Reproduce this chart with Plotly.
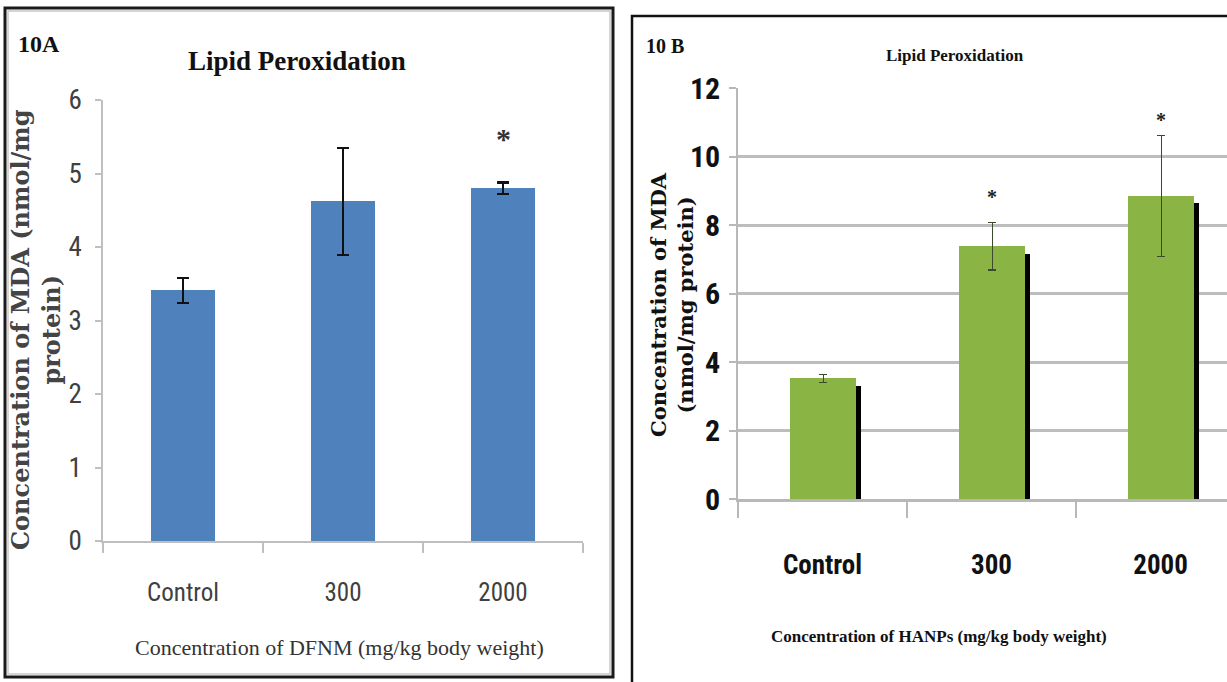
import plotly.graph_objects as go

W, H = 1227, 682

categories = ["Control", "300", "2000"]

# Panel 10A : DFNM
dfnm_mda = [3.41, 4.62, 4.80]
dfnm_err = [0.17, 0.73, 0.08]
dfnm_sig = [False, False, True]

# Panel 10B : HANPs
hanp_mda = [3.52, 7.38, 8.85]
hanp_err = [0.12, 0.70, 1.77]
hanp_sig = [False, True, True]

y_ticks_a = [0, 1, 2, 3, 4, 5, 6]
y_ticks_b = [0, 2, 4, 6, 8, 10, 12]


def px_x(p):
    return p / W


def px_y(p):
    return (H - p) / H


NARROW = "Liberation Sans Narrow, Roboto Condensed, Liberation Sans, Arial"
SERIF = "Liberation Serif, Times New Roman, serif"
WIDE_SERIF = "DejaVu Serif, serif"

fig = go.Figure()

# ---- Panel A bars
fig.add_trace(go.Bar(
    x=categories, y=dfnm_mda, width=0.4,
    marker=dict(color="#4f81bd", line=dict(width=0)),
    error_y=dict(type="data", array=dfnm_err, color="#111111", thickness=2.5, width=6),
    xaxis="x", yaxis="y", showlegend=False,
))

# ---- Panel B bars (shadow then green bar)
fig.add_trace(go.Bar(
    x=categories, y=[v - 0.22 for v in hanp_mda], width=0.39, offset=-0.165,
    marker=dict(color="#000000", line=dict(width=0)),
    xaxis="x2", yaxis="y2", showlegend=False, hoverinfo="skip",
))
fig.add_trace(go.Bar(
    x=categories, y=hanp_mda, width=0.39, offset=-0.19,
    marker=dict(color="#8ab443", line=dict(width=0)),
    error_y=dict(type="data", array=hanp_err, color="#3b4a2c", thickness=1.5, width=4),
    xaxis="x2", yaxis="y2", showlegend=False,
))

annotations = []
# significance stars (x given as category index)
for i, (m, e, s) in enumerate(zip(dfnm_mda, dfnm_err, dfnm_sig)):
    if s:
        annotations.append(dict(x=i, y=m + e, xref="x", yref="y", text="<b>*</b>",
                                showarrow=False, xanchor="center", yanchor="middle", yshift=44,
                                font=dict(family=SERIF, size=30, color="#333333")))
for i, (m, e, s) in enumerate(zip(hanp_mda, hanp_err, hanp_sig)):
    if s:
        annotations.append(dict(x=i, y=m + e, xref="x2", yref="y2", text="<b>*</b>",
                                showarrow=False, xanchor="center", yanchor="middle",
                                yshift=25 if i == 1 else 15,
                                font=dict(family=SERIF, size=20, color="#222222")))

# titles and labels
annotations += [
    dict(x=px_x(297), y=px_y(61), xref="paper", yref="paper", text="<b>Lipid Peroxidation</b>",
         showarrow=False, xanchor="center", yanchor="middle",
         font=dict(family=SERIF, size=27, color="#111111")),
    dict(x=px_x(16), y=px_y(44), xref="paper", yref="paper", text="<b>10A</b>",
         showarrow=False, xanchor="left", yanchor="middle",
         font=dict(family=SERIF, size=24, color="#111111")),
    dict(x=px_x(36), y=px_y(330), xref="paper", yref="paper",
         text="<b>Concentration of MDA (nmol/mg<br>protein)</b>", textangle=-90,
         showarrow=False, xanchor="center", yanchor="middle",
         font=dict(family=WIDE_SERIF, size=24, color="#444444")),
    dict(x=px_x(339), y=px_y(647), xref="paper", yref="paper",
         text="Concentration of DFNM (mg/kg body weight)",
         showarrow=False, xanchor="center", yanchor="middle",
         font=dict(family=SERIF, size=22, color="#333333")),
    dict(x=px_x(955), y=px_y(55), xref="paper", yref="paper", text="<b>Lipid Peroxidation</b>",
         showarrow=False, xanchor="center", yanchor="middle",
         font=dict(family=SERIF, size=17, color="#111111")),
    dict(x=px_x(644), y=px_y(46), xref="paper", yref="paper", text="<b>10 B</b>",
         showarrow=False, xanchor="left", yanchor="middle",
         font=dict(family=SERIF, size=20, color="#111111")),
    dict(x=px_x(672), y=px_y(305), xref="paper", yref="paper",
         text="<b>Concentration of MDA<br>(nmol/mg protein)</b>", textangle=-90,
         showarrow=False, xanchor="center", yanchor="middle",
         font=dict(family=WIDE_SERIF, size=21, color="#111111")),
    dict(x=px_x(939), y=px_y(636), xref="paper", yref="paper",
         text="<b>Concentration of HANPs (mg/kg body weight)</b>",
         showarrow=False, xanchor="center", yanchor="middle",
         font=dict(family=SERIF, size=17, color="#111111")),
]

shapes = [
    # panel A frame
    dict(type="rect", xref="paper", yref="paper",
         x0=px_x(5), x1=px_x(613), y0=px_y(677), y1=px_y(8),
         line=dict(color="#1a1a1a", width=3), fillcolor="rgba(0,0,0,0)", layer="above"),
    dict(type="rect", xref="paper", yref="paper",
         x0=px_x(8), x1=px_x(610), y0=px_y(674), y1=px_y(11),
         line=dict(color="#c8c8c8", width=1.5), fillcolor="rgba(0,0,0,0)", layer="above"),
    # panel B frame (extends beyond the picture)
    dict(type="rect", xref="paper", yref="paper",
         x0=px_x(632), x1=1.05, y0=-0.05, y1=px_y(16),
         line=dict(color="#111111", width=2.5), fillcolor="rgba(0,0,0,0)", layer="above"),
]

fig.update_layout(
    width=W, height=H, margin=dict(l=0, r=0, t=0, b=0, pad=0, autoexpand=False),
    paper_bgcolor="white", plot_bgcolor="rgba(0,0,0,0)",
    barmode="overlay", bargap=0,
    annotations=annotations, shapes=shapes,
    xaxis=dict(domain=[px_x(103), px_x(583)], range=[-0.5, 2.5], type="category",
               showline=True, linecolor="#bfbfbf", linewidth=1.5,
               ticks="outside", tickson="boundaries", ticklen=10, tickcolor="#bfbfbf", tickwidth=1.5,
               ticklabelstandoff=28, showgrid=False, zeroline=False, automargin=False,
               tickfont=dict(family=NARROW, size=25, color="#404040"), anchor="y"),
    yaxis=dict(domain=[px_y(541), px_y(100)], range=[0, 6], tickvals=y_ticks_a,
               showline=True, linecolor="#bfbfbf", linewidth=1.5,
               ticks="outside", ticklen=6, tickcolor="#bfbfbf", tickwidth=1.5,
               ticklabelstandoff=8, showgrid=False, zeroline=False, automargin=False,
               tickfont=dict(family=NARROW, size=27, color="#404040"), anchor="x"),
    xaxis2=dict(domain=[px_x(738), 1.0], range=[-0.5, 2.393], type="category",
                showline=True, linecolor="#b8b8b8", linewidth=3,
                ticks="outside", tickson="boundaries", ticklen=16, tickcolor="#b8b8b8", tickwidth=1.5,
                ticklabelstandoff=40, showgrid=False, zeroline=False, automargin=False,
                tickfont=dict(family=NARROW, size=27, color="#111111", weight="bold"), anchor="y2"),
    yaxis2=dict(domain=[px_y(499), px_y(88)], range=[0, 12], tickvals=y_ticks_b,
                showline=True, linecolor="#b8b8b8", linewidth=1.5,
                ticks="outside", ticklen=7, tickcolor="#b8b8b8", tickwidth=1.5,
                ticklabelstandoff=3, showgrid=True, gridcolor="#bdbdbd", gridwidth=3,
                zeroline=False, automargin=False,
                tickfont=dict(family=NARROW, size=30, color="#111111", weight="bold"), anchor="x2"),
)

fig.write_html(
    "out.html",
    config={"displayModeBar": False},
    post_script="document.body.style.margin='0';document.documentElement.style.overflow='hidden';",
)
